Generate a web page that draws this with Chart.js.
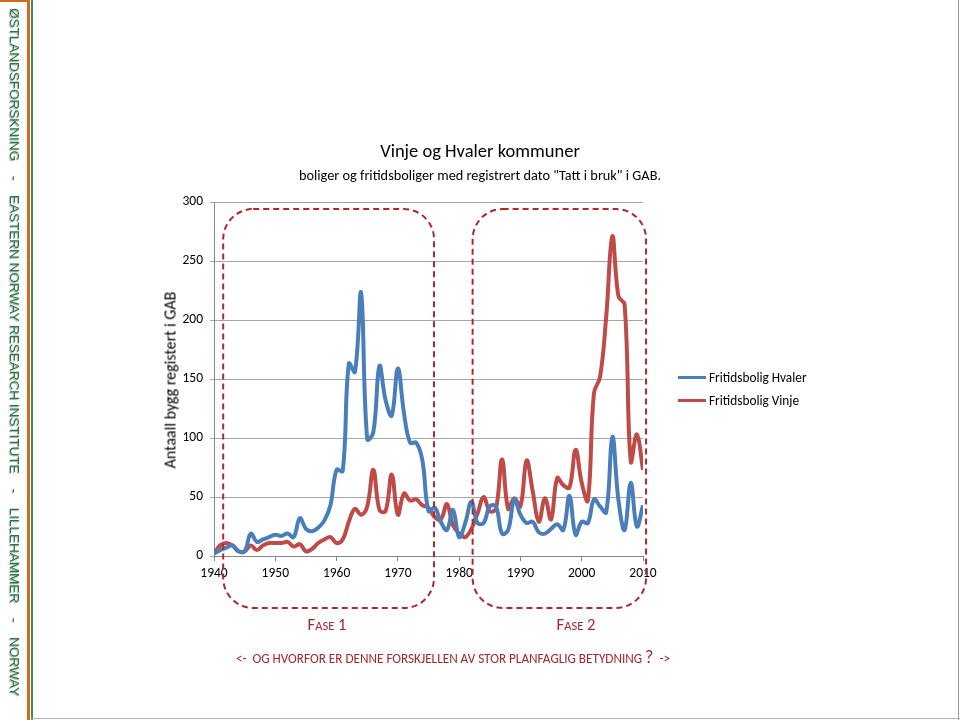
<!DOCTYPE html>
<html><head><meta charset="utf-8">
<script src="https://cdn.jsdelivr.net/npm/chart.js@4"></script>
<style>
html,body{margin:0;padding:0;background:#fff;}
#page{position:relative;width:960px;height:720px;overflow:hidden;background:#fff;font-family:Carlito,Calibri,Lato,"Liberation Sans",sans-serif;color:#000;}
#cv{position:absolute;left:0;top:0;}
#orange{position:absolute;left:27px;top:0;width:3px;height:720px;background:#d2691e;}
#topbar{position:absolute;left:0;top:0;width:29px;height:2px;background:#d2691e;}
#green{position:absolute;left:31px;top:0;width:2px;height:720px;background:#3f8c4e;}
#frameR{position:absolute;right:1px;top:0;width:1px;height:720px;background:#9a9a9a;}
#frameB{position:absolute;left:31px;bottom:1px;width:929px;height:1px;background:#b0b0b0;}
#sideText{position:absolute;left:22px;top:8px;width:688px;height:16px;transform-origin:0 0;transform:rotate(90deg);
  display:flex;justify-content:space-between;align-items:center;font-family:"Liberation Sans",Arial,sans-serif;font-size:13.5px;
  color:#1e7b43;text-shadow:1px 1px 1px rgba(0,0,0,0.35);white-space:nowrap;line-height:16px;}
#title{position:absolute;left:0;width:960px;top:140px;text-align:center;font-size:18.5px;line-height:22px;}
#subtitle{position:absolute;left:0;width:960px;top:166px;text-align:center;font-size:14.3px;line-height:18px;}
#ytitle{position:absolute;left:170px;top:380px;transform:translate(-50%,-50%) rotate(-90deg);font-size:16px;white-space:nowrap;}
#legend{position:absolute;left:678px;top:366px;font-size:13.3px;}
#legend .item{display:flex;align-items:center;height:23px;}
#legend .sw{width:28px;height:3px;margin-right:3px;}
.red{color:#a3262c;}
.fase{position:absolute;top:614px;font-size:16.5px;transform:translateX(-50%);white-space:nowrap;}
.sc{font-size:12.5px;}
#bottom{position:absolute;top:646px;left:453px;transform:translateX(-50%);font-size:13.2px;white-space:nowrap;}
#bottom .q{font-size:18px;}
</style>
</head><body>
<div id="page">
  <canvas id="cv" width="960" height="720"></canvas>
  <div id="topbar"></div><div id="orange"></div><div id="green"></div>
  <div id="frameR"></div><div id="frameB"></div>
  <div id="sideText"><span>ØSTLANDSFORSKNING</span><span>-</span><span>EASTERN NORWAY RESEARCH INSTITUTE</span><span>-</span><span>LILLEHAMMER</span><span>-</span><span>NORWAY</span></div>
  <div id="title">Vinje og Hvaler kommuner</div>
  <div id="subtitle">boliger og fritidsboliger med registrert dato "Tatt i bruk" i GAB.</div>
  <div id="ytitle">Antaall bygg registert i GAB</div>
  <div id="legend"></div>
  <div class="fase red" style="left:327px;">F<span class="sc">ASE</span> 1</div>
  <div class="fase red" style="left:576px;">F<span class="sc">ASE</span> 2</div>
  <div id="bottom" class="red">&lt;-&nbsp; OG HVORFOR ER DENNE FORSKJELLEN AV STOR PLANFAGLIG BETYDNING <span class="q">?</span>&nbsp; -&gt;</div>
</div>
<script>
const years = [1940,1941,1942,1943,1944,1945,1946,1947,1948,1949,
  1950,1951,1952,1953,1954,1955,1956,1957,1958,1959,
  1960,1961,1962,1963,1964,1965,1966,1967,1968,1969,
  1970,1971,1972,1973,1974,1975,1976,1977,1978,1979,
  1980,1981,1982,1983,1984,1985,1986,1987,1988,1989,
  1990,1991,1992,1993,1994,1995,1996,1997,1998,1999,
  2000,2001,2002,2003,2004,2005,2006,2007,2008,2009,2010];
const hvaler = [2,5,7,9,4,4,19,12,14,16,
  18,17,19,16,32,23,21,24,30,43,
  73,72,163,156,223,99,105,161,132,119,
  159,121,96,96,81,38,41,29,22,39,
  16,28,46,28,28,42,42,19,22,48,
  35,28,29,20,19,23,27,22,51,18,
  29,28,48,42,37,101,47,22,62,25,43];
const vinje = [2,9,11,9,4,4,9,5,9,11,
  11,11,12,8,10,4,6,11,14,16,
  11,14,29,40,35,42,73,39,38,69,
  35,53,47,48,43,41,33,31,44,26,
  19,16,23,36,50,38,40,82,40,49,
  42,81,55,29,49,31,66,60,58,90,
  62,47,138,152,203,271,220,213,80,103,73];
const seriesNames = ['Fritidsbolig Hvaler','Fritidsbolig Vinje'];
const seriesColors = ['#4A7EBB','#BE4B48'];
const yTicks = {min:0, max:300, step:50};
const xTicks = {min:1940, max:2010, step:10};
// annotation boxes (data units)
const phaseFrom = [1941.5, 1982.2];
const phaseTo = [1975.9, 2010.5];
const phaseTop = 294, phaseBottom = -44;

const FONT = 'Carlito, Calibri, Lato, "Liberation Sans", sans-serif';

const phaseBoxes = {
  id:'phaseBoxes',
  afterDraw(chart){
    const {ctx, scales:{x,y}} = chart;
    ctx.save();
    ctx.strokeStyle = '#b0282e';
    ctx.lineWidth = 2;
    ctx.setLineDash([6,4]);
    for(let i=0;i<phaseFrom.length;i++){
      const l = x.getPixelForValue(phaseFrom[i]);
      const r = x.getPixelForValue(phaseTo[i]);
      const t = y.getPixelForValue(phaseTop);
      const b = y.getPixelForValue(phaseBottom);
      ctx.beginPath();
      ctx.roundRect(l,t,r-l,b-t,30);
      ctx.stroke();
    }
    ctx.restore();
  }
};

const chart = new Chart(document.getElementById('cv'), {
  type:'line',
  data:{
    labels: years,
    datasets:[
      {label:seriesNames[0], data:hvaler, borderColor:seriesColors[0], backgroundColor:seriesColors[0], borderWidth:4, pointRadius:0, tension:0.4, fill:false},
      {label:seriesNames[1], data:vinje, borderColor:seriesColors[1], backgroundColor:seriesColors[1], borderWidth:4, pointRadius:0, tension:0.4, fill:false}
    ]
  },
  options:{
    responsive:false, animation:false,
    layout:{padding:{left:0,right:317,top:202,bottom:0}},
    plugins:{legend:{display:false}, tooltip:{enabled:false}, title:{display:false}},
    scales:{
      x:{type:'linear', min:xTicks.min, max:xTicks.max,
        ticks:{stepSize:xTicks.step, callback:v=>String(v), color:'#000', font:{family:FONT,size:13.5}, padding:5, maxRotation:0, autoSkip:false},
        grid:{drawOnChartArea:false, drawTicks:true, tickLength:5, color:'#868686'},
        border:{color:'#868686'},
        afterFit:s=>{s.height=164;}
      },
      y:{min:yTicks.min, max:yTicks.max,
        ticks:{stepSize:yTicks.step, color:'#000', font:{family:FONT,size:13.5}, padding:7},
        grid:{color:'#a6a6a6', tickLength:4},
        border:{color:'#868686'},
        afterFit:s=>{s.width=214;}
      }
    }
  },
  plugins:[phaseBoxes]
});

const lg = document.getElementById('legend');
chart.data.datasets.forEach(ds=>{
  const it = document.createElement('div'); it.className='item';
  const sw = document.createElement('div'); sw.className='sw'; sw.style.background=ds.borderColor;
  const tx = document.createElement('span'); tx.textContent = ds.label;
  it.appendChild(sw); it.appendChild(tx); lg.appendChild(it);
});
</script>
</body></html>
